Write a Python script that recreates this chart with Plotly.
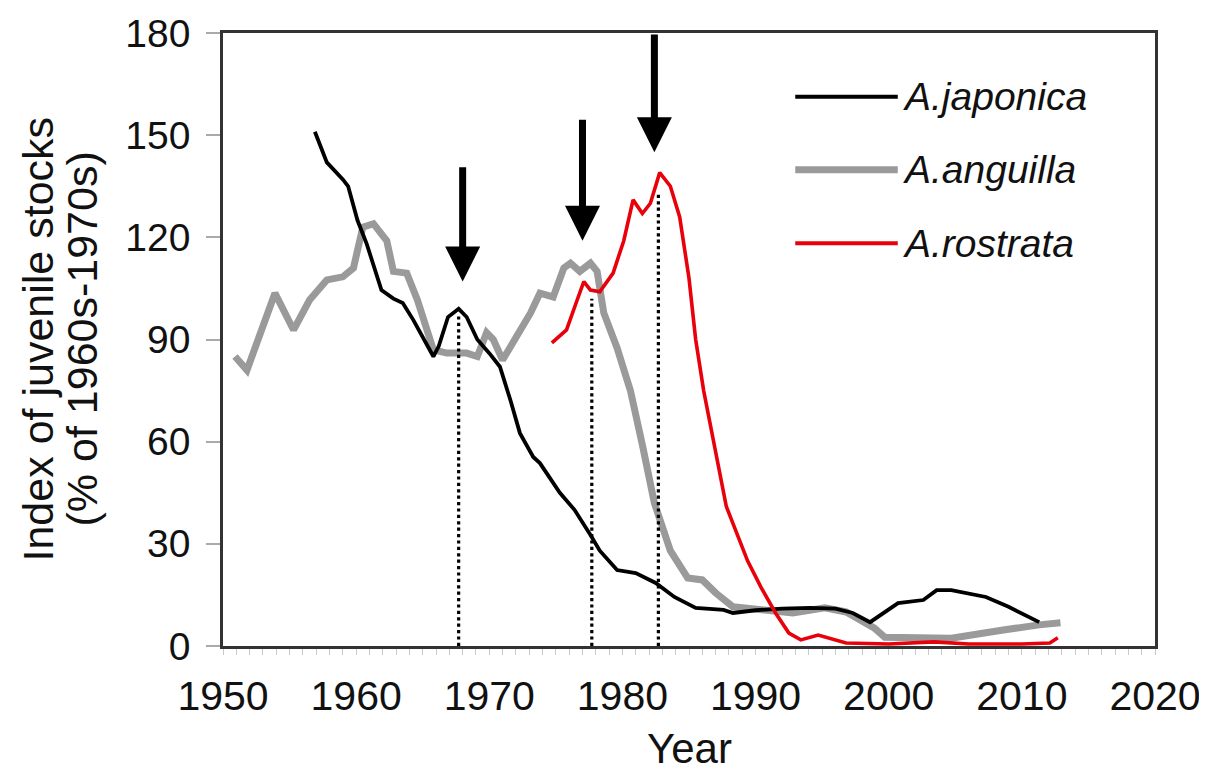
import plotly.graph_objects as go

# ---------------- data ----------------
jap_years = [1956.9, 1957.8, 1959.0, 1959.4, 1960.1, 1960.8, 1961.9, 1962.8, 1963.5, 1964.3,
             1965.8, 1966.2, 1966.9, 1967.7, 1968.3, 1969.1, 1970.0, 1970.8, 1971.6, 1972.3,
             1973.3, 1973.8, 1975.3, 1976.4, 1977.6, 1978.3, 1979.6, 1981.0, 1982.5, 1983.9,
             1985.5, 1987.6, 1988.3, 1990.0, 1992.0, 1994.1, 1996.0, 1997.3, 1998.6, 2000.7,
             2002.6, 2003.6, 2004.7, 2006.0, 2007.3, 2009.0, 2011.3]
jap_vals = [151, 142, 137, 135, 125, 118, 104.5, 102, 100.7, 95.7,
            85, 88, 96.6, 99, 96.6, 90, 86, 82, 72, 62.5,
            55.5, 53.7, 45, 40, 32.6, 28, 22.3, 21.4, 18.5, 14.4,
            11.2, 10.6, 9.7, 10.5, 11, 11.2, 11, 9.7, 7, 12.6,
            13.5, 16.4, 16.4, 15.5, 14.4, 11.5, 7]

ang_years = [1950.9, 1951.8, 1953.9, 1955.3, 1956.5, 1957.8, 1959.0, 1959.8, 1960.5, 1961.3,
             1962.3, 1962.8, 1963.8, 1964.6, 1965.8, 1966.8, 1968.3, 1969.1, 1969.8, 1970.3,
             1971.0, 1972.1, 1973.1, 1973.8, 1974.8, 1975.6, 1976.1, 1976.8, 1977.6, 1978.1,
             1978.6, 1979.6, 1980.6, 1981.5, 1982.4, 1983.6, 1984.9, 1986.0, 1987.0, 1988.3,
             1990.2, 1992.8, 1995.2, 1996.8, 1998.9, 1999.7, 2004.7, 2006.0, 2008.6, 2011.3,
             2012.9]
ang_vals = [85, 81, 103.6, 92.8, 101.6, 107.5, 108.4, 111, 123, 124,
            119, 110, 109.5, 101.6, 87, 86, 86, 85, 92, 90,
            84, 91, 97.8, 103.6, 102.5, 111, 112.4, 110, 112.4, 110,
            97.8, 87.5, 75, 59, 42, 28, 20, 19.4, 15.6, 11.5,
            10.6, 9.7, 11.2, 10, 5.3, 2.6, 2.3, 3.2, 4.7, 6.2,
            6.8]

ros_years = [1974.7, 1975.8, 1976.6, 1977.1, 1977.6, 1978.3, 1979.3, 1980.1, 1980.8, 1981.5,
             1982.1, 1982.8, 1983.6, 1984.3, 1985.0, 1985.5, 1986.1, 1987.0, 1987.8, 1988.6,
             1989.4, 1990.4, 1991.5, 1992.5, 1993.4, 1994.7, 1996.0, 1996.8, 2000.0, 2003.4,
             2006.0, 2010.0, 2012.1, 2012.7]
ros_vals = [89, 92.8, 101.6, 107, 104.5, 104, 109.5, 119, 131, 127,
            130, 139, 135, 126, 108, 90, 75, 57.5, 41, 33,
            25, 17.3, 9.7, 3.8, 1.8, 3.2, 1.8, 0.9, 0.6, 1.2,
            0.6, 0.6, 0.9, 2.4]

series_names = ["A.japonica", "A.anguilla", "A.rostrata"]

# peak markers (dotted lines) and arrows
peak_years = [1967.7, 1977.7, 1982.7]
peak_tops = [97, 102, 133]
arrow_x = [1968.0, 1977.0, 1982.4]
arrow_tail = [141, 155, 180]
arrow_tip = [107, 119, 145]

x_ticks = [1950, 1960, 1970, 1980, 1990, 2000, 2010, 2020]
y_ticks = [0, 30, 60, 90, 120, 150, 180]

y_title_lines = ["Index of juvenile stocks", "(% of 1960s-1970s)"]
x_title = "Year"

# ---------------- figure ----------------
FONT = "Liberation Sans, Arial, sans-serif"
TXT = "#111111"
# page body has an 8px margin: figure is sized/offset to compensate
W, H = 1199, 763
ML, MT = 215, 25
PW, PH = 932, 613
fig = go.Figure()

fig.add_trace(go.Scatter(x=ang_years, y=ang_vals, mode="lines", name=series_names[1],
                         line=dict(color="#9a9a9a", width=7), showlegend=False))
fig.add_trace(go.Scatter(x=jap_years, y=jap_vals, mode="lines", name=series_names[0],
                         line=dict(color="#000000", width=3.8), showlegend=False))
fig.add_trace(go.Scatter(x=ros_years, y=ros_vals, mode="lines", name=series_names[2],
                         line=dict(color="#e8000b", width=3.6), showlegend=False))

for px, top in zip(peak_years, peak_tops):
    fig.add_shape(type="line", x0=px, x1=px, y0=0, y1=top, xref="x", yref="y",
                  line=dict(color="#000000", width=3.2, dash="dot"))

for ax_, tail, tip in zip(arrow_x, arrow_tail, arrow_tip):
    fig.add_annotation(x=ax_, y=tip, ax=ax_, ay=tail, xref="x", yref="y",
                       axref="x", ayref="y", text="", showarrow=True,
                       arrowhead=2, arrowsize=1.0, arrowwidth=7, arrowcolor="#000000",
                       standoff=0)

# legend drawn manually
leg_colors = ["#000000", "#9a9a9a", "#e8000b"]
leg_widths = [4, 7, 4]
leg_y = [0.896, 0.777, 0.657]
for name, c, w, yy in zip(series_names, leg_colors, leg_widths, leg_y):
    fig.add_shape(type="line", xref="paper", yref="paper", x0=0.614, x1=0.724,
                  y0=yy, y1=yy, line=dict(color=c, width=w))
    fig.add_annotation(xref="paper", yref="paper", x=0.728, y=yy, text="<i>%s</i>" % name,
                       showarrow=False, xanchor="left", yanchor="middle",
                       font=dict(family=FONT, size=39, color=TXT))

# axis titles as annotations for exact placement (page pixel targets)
for txt, xpix in zip(y_title_lines, [37, 81]):
    fig.add_annotation(xref="paper", yref="paper", x=(xpix - 8 - ML) / PW, y=0.5,
                       text=txt, textangle=-90, showarrow=False,
                       xanchor="center", yanchor="middle",
                       font=dict(family=FONT, size=43, color=TXT))
fig.add_annotation(xref="paper", yref="paper", x=0.5, y=(646 - 748) / PH,
                   text=x_title, showarrow=False, xanchor="center", yanchor="middle",
                   font=dict(family=FONT, size=42, color=TXT))

fig.update_layout(
    width=W, height=H,
    margin=dict(l=ML, r=W - ML - PW, t=MT, b=H - MT - PH, pad=0),
    paper_bgcolor="white", plot_bgcolor="white",
    font=dict(family=FONT, size=38, color=TXT),
)
fig.update_xaxes(range=[1950, 2020], tickvals=x_ticks, ticks="", showgrid=False,
                 zeroline=False, showline=True, linecolor="#333333", linewidth=2.5,
                 mirror=True, tickfont=dict(size=41), automargin=False,
                 ticklabelstandoff=12,
                 minor=dict(dtick=1, ticks="outside", ticklen=6, tickcolor="#c8c8c8", showgrid=False))
fig.update_yaxes(range=[0, 180], tickvals=y_ticks, ticks="outside", ticklen=14,
                 tickcolor="#aaaaaa", tickwidth=1.5, showgrid=False, zeroline=False,
                 showline=True, linecolor="#333333", linewidth=2.5, mirror=True,
                 tickfont=dict(size=39), ticklabelstandoff=8, automargin=False)

fig.write_html("out.html")
